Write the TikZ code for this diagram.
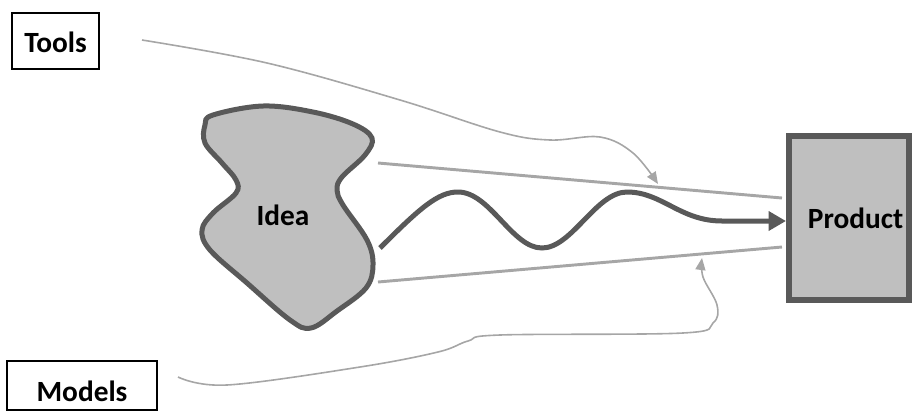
\documentclass[tikz,border=0pt]{standalone}
\usepackage{fontspec}
\setmainfont{Carlito}
\usepackage{tikz}
\usetikzlibrary{arrows.meta}
\definecolor{edgegray}{HTML}{595959}
\definecolor{fillgray}{HTML}{BFBFBF}
\definecolor{linegray}{HTML}{A6A6A6}

\begin{document}
\begin{tikzpicture}[x=0.75pt,y=-0.75pt,font=\fontsize{22}{27}\selectfont\bfseries,
  labelbox/.style={draw=black,line width=1.5pt,inner sep=0pt,text depth=0pt},
  funnel/.style={linegray,line width=2.2pt},
  influence/.style={linegray,line width=1.2pt,-{Triangle[length=9pt,width=7.5pt]}}]
\useasboundingbox (0,0) rectangle (913,411);
\node[labelbox,minimum width=65.25pt,minimum height=42pt,text height=17.5pt] (tools) at (55.5,41) {Tools};
\node[labelbox,minimum width=112.5pt,minimum height=36.75pt,text height=24pt] (models) at (82,385.5) {Models};
\node[draw=edgegray,fill=fillgray,line width=4.5pt,minimum width=90pt,minimum height=123pt,inner sep=0pt] (product) at (849,218) {\hspace*{10pt}Product};
\draw[edgegray,fill=fillgray,line width=3.75pt] plot[smooth cycle,tension=0.6] coordinates {
  (213,115) (263,106) (313,112) (353,124) (372,138) (365,155) (342,177) (337,190)
  (343,205) (367,240) (373,265) (366,288) (337,311) (311,328) (290,320) (247,283)
  (210,250) (202,230) (213,213) (236,193) (236,180) (222,163) (205,143) (205,125)};
\node (idea) at (283,215) {Idea};
% funnel from idea to product
\coordinate (ftop) at (378,163);
\coordinate (fbot) at (378,282);
\coordinate (ptop) at (782,198);
\coordinate (pbot) at (782,247);
\draw[funnel] (ftop) -- (ptop);
\draw[funnel] (fbot) -- (pbot);
\coordinate (wstart) at (380,248);
\draw[edgegray,line width=3.75pt,-{Triangle[length=13pt,width=14pt]}] (wstart)
  .. controls (420,208) and (438,192) .. (458,192)
  .. controls (490,192) and (512,248) .. (542,248)
  .. controls (572,248) and (596,192) .. (627,192)
  .. controls (662,192) and (680,221) .. (722,221) -- ([yshift=-2.25pt]product.west);
% tools and models
\coordinate (tstart) at (142,40);
\coordinate (ttip) at (658,184);
\coordinate (mstart) at (178,377);
\coordinate (mtip) at (702,258);
\draw[influence] plot[smooth,tension=0.6] coordinates {(tstart) (267,63) (400,100) (500,132) (550,140) (600,137) (633,153) (ttip)};
\draw[influence] plot[smooth,tension=0.6] coordinates {(mstart) (227,385) (360,367) (438,352) (468,341) (500,335) (683,333) (713,323) (717,305) (703,277) (mtip)};
\end{tikzpicture}
\end{document}
